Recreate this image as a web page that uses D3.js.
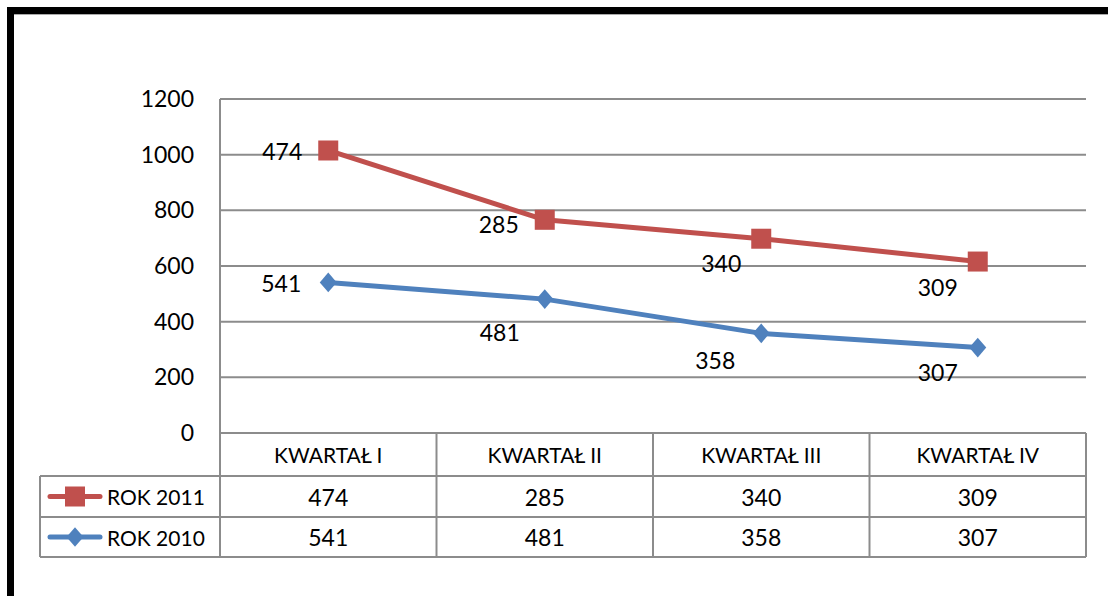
<!DOCTYPE html>
<html><head><meta charset="utf-8">
<script src="https://cdn.jsdelivr.net/npm/d3@7"></script>
<style>html,body{margin:0;padding:0;background:#fff;overflow:hidden}</style>
</head><body>
<svg id="c" width="1108" height="596"></svg>
<script>
const categories = ["KWARTAŁ I", "KWARTAŁ II", "KWARTAŁ III", "KWARTAŁ IV"];
const rok2010 = [541, 481, 358, 307];
const rok2011 = [474, 285, 340, 309];
const yTicks = [0, 200, 400, 600, 800, 1000, 1200];
const seriesNames = ["ROK 2011", "ROK 2010"];

// layout (label offsets relative to point)
const lbl2011 = [[-46, 1], [-46, 4], [-40, 24], [-40, 25]];
const lbl2010 = [[-47, 1], [-45, 33], [-46, 27], [-40, 24]];

(function () {
const svg = d3.select("#c");
const font = "Lato, 'Open Sans', sans-serif";
const fs = 23;
const pLeft = 220, pRight = 1086, pTop = 99, pBottom = 433;
const rowH = [433, 476, 517, 557];
const red = "#C0504D", blue = "#4F81BD", grid = "#8c8c8c";

// frame
svg.append("rect").attr("x", 10.5).attr("y", 10.5).attr("width", 1200).attr("height", 700)
  .attr("fill", "none").attr("stroke", "#000").attr("stroke-width", 7);
svg.append("line").attr("x1", 14).attr("x2", 1108).attr("y1", 14.5).attr("y2", 14.5).attr("stroke", "#aaa").attr("stroke-width", 1);

const x = d3.scaleBand().domain(categories).range([pLeft, pRight]);
const y = d3.scaleLinear().domain([0, 1200]).range([pBottom, pTop]);

// gridlines
svg.append("g").selectAll("line").data(yTicks).join("line")
  .attr("x1", pLeft).attr("x2", pRight).attr("y1", d => y(d)).attr("y2", d => y(d))
  .attr("stroke", grid).attr("stroke-width", 2);

// y axis labels
const yAxis = d3.axisLeft(y).tickValues(yTicks).tickSize(0).tickPadding(26).tickFormat(d3.format("d"));
const ya = svg.append("g").attr("transform", `translate(${pLeft},0)`).call(yAxis);
ya.select(".domain").remove();
ya.selectAll("text").attr("font-family", font).attr("font-size", fs).attr("fill", "#000");

// table
const tg = svg.append("g").attr("stroke", grid).attr("stroke-width", 2);
tg.append("line").attr("x1", pLeft).attr("x2", pLeft).attr("y1", pTop).attr("y2", rowH[3]);
categories.forEach(c => {
  tg.append("line").attr("x1", x(c) + x.bandwidth()).attr("x2", x(c) + x.bandwidth()).attr("y1", rowH[0]).attr("y2", rowH[3]);
});
[1, 2, 3].forEach(i => tg.append("line").attr("x1", 40).attr("x2", pRight).attr("y1", rowH[i]).attr("y2", rowH[i]));
tg.append("line").attr("x1", 40).attr("x2", 40).attr("y1", rowH[1]).attr("y2", rowH[3]);

const txt = (xx, yy, t, anchor = "middle", size = fs) => svg.append("text").attr("x", xx).attr("y", yy)
  .attr("text-anchor", anchor).attr("dominant-baseline", "central")
  .attr("font-family", font).attr("font-size", size).attr("fill", "#000").text(t);

categories.forEach((c, i) => {
  const cxx = x(c) + x.bandwidth() / 2;
  txt(cxx, (rowH[0] + rowH[1]) / 2, c, "middle", 21);
  txt(cxx, (rowH[1] + rowH[2]) / 2, rok2011[i]);
  txt(cxx, (rowH[2] + rowH[3]) / 2, rok2010[i]);
});

const diamond = sel => sel.append("path").attr("d", d3.symbol(d3.symbolSquare, 160)()).attr("fill", blue);

// legend keys
[0, 1].forEach(i => {
  const cy = (rowH[i + 1] + rowH[i + 2]) / 2;
  const color = i === 0 ? red : blue;
  svg.append("line").attr("x1", 50).attr("x2", 100).attr("y1", cy).attr("y2", cy)
    .attr("stroke", color).attr("stroke-width", 5).attr("stroke-linecap", "round");
  if (i === 0) {
    svg.append("rect").attr("x", 65).attr("y", cy - 10).attr("width", 20).attr("height", 20).attr("fill", red);
  } else {
    diamond(svg.append("g").attr("transform", `translate(75,${cy}) scale(0.95,1.1) rotate(45)`));
  }
  txt(107, cy, seriesNames[i], "start", 21);
});

// stacked series
const stacked2011 = rok2011.map((v, i) => v + rok2010[i]);
const cx = c => x(c) + x.bandwidth() / 2;
const line = d3.line().x((d, i) => cx(categories[i])).y(d => y(d));

svg.append("path").datum(rok2010).attr("d", line).attr("fill", "none").attr("stroke", blue).attr("stroke-width", 5).attr("stroke-linejoin", "round");
svg.append("path").datum(stacked2011).attr("d", line).attr("fill", "none").attr("stroke", red).attr("stroke-width", 5).attr("stroke-linejoin", "round");

svg.append("g").selectAll("g").data(rok2010).join("g")
  .attr("transform", (d, i) => `translate(${cx(categories[i])},${y(d)}) scale(0.95,1.1) rotate(45)`)
  .append("path").attr("d", d3.symbol(d3.symbolSquare, 160)()).attr("fill", blue);
svg.append("g").selectAll("rect").data(stacked2011).join("rect")
  .attr("x", (d, i) => cx(categories[i]) - 10).attr("y", d => y(d) - 10)
  .attr("width", 20).attr("height", 20).attr("fill", red);

// data labels
rok2011.forEach((v, i) => txt(cx(categories[i]) + lbl2011[i][0], y(stacked2011[i]) + lbl2011[i][1], v));
rok2010.forEach((v, i) => txt(cx(categories[i]) + lbl2010[i][0], y(rok2010[i]) + lbl2010[i][1], v));
})();
</script>
</body></html>
